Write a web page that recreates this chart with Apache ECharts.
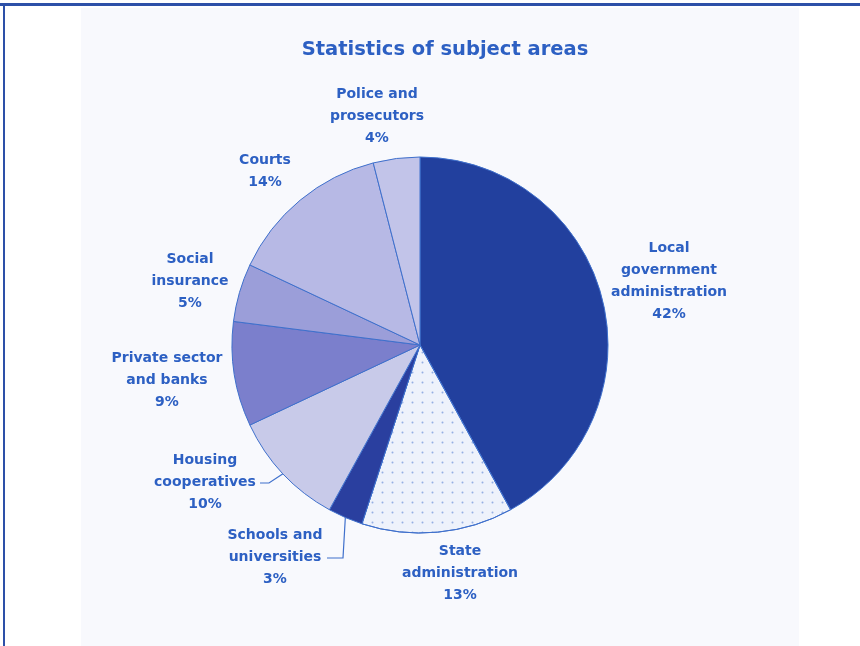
<!DOCTYPE html>
<html>
<head>
<meta charset="utf-8">
<script src="https://cdn.jsdelivr.net/npm/echarts@6/dist/echarts.min.js"></script>
<style>
  html, body { margin: 0; padding: 0; background: #ffffff; }
  #chart { width: 860px; height: 646px; }
</style>
</head>
<body>
<div id="chart"></div>
<script>
// ---- data ----
const categories = [
  'Local\ngovernment\nadministration',
  'State\nadministration',
  'Schools and\nuniversities',
  'Housing\ncooperatives',
  'Private sector\nand banks',
  'Social\ninsurance',
  'Courts',
  'Police and\nprosecutors'
];
const shares = [42, 13, 3, 10, 9, 5, 14, 4];

// ---- styling / layout (not data) ----
const sliceColors = ['#22409e', '#eef2fb', '#2a3f9f', '#c8cae9', '#7b7fcc', '#9b9ed9', '#b7b9e5', '#c2c4e9'];
const labelCenters = [[669, 281], [460, 573], [275, 557], [205, 482], [167, 380], [190, 281], [265, 171], [377, 116]];
const leaderEnds = { 2: [[343, 558], [327, 558]], 3: [[269, 483], [260, 483]] };

const textColor = '#2d60c3';

const chart = echarts.init(document.getElementById('chart'), null, { renderer: 'canvas' });

const data = categories.map((name, i) => ({
  name: name,
  value: shares[i],
  itemStyle: Object.assign({ color: sliceColors[i] }, i === 1 ? {
    decal: { symbol: 'circle', symbolSize: 0.4, color: 'rgba(90,130,210,0.6)', dashArrayX: 5, dashArrayY: 5, rotation: 0 }
  } : {}),
  labelLine: { show: leaderEnds[i] !== undefined }
}));

chart.setOption({
  animation: false,
  backgroundColor: '#ffffff',
  graphic: [
    { type: 'rect', z: -10, silent: true, shape: { x: 81, y: 8, width: 718, height: 638 }, style: { fill: '#f8f9fd' } },
    { type: 'rect', z: 10, silent: true, shape: { x: 0, y: 3, width: 860, height: 3 }, style: { fill: '#2d50a8' } },
    { type: 'rect', z: 10, silent: true, shape: { x: 3, y: 3, width: 2, height: 643 }, style: { fill: '#2d50a8' } }
  ],
  title: {
    text: 'Statistics of subject areas',
    left: 440,
    top: 35,
    textAlign: 'center',
    textStyle: { fontFamily: 'DejaVu Sans', fontWeight: 'bold', fontSize: 19.5, color: textColor }
  },
  series: [{
    type: 'pie',
    center: [420, 345],
    radius: 188,
    startAngle: 90,
    clockwise: true,
    avoidLabelOverlap: false,
    emphasis: { disabled: true },
    itemStyle: { borderColor: '#3f70cc', borderWidth: 1 },
    label: {
      show: true,
      formatter: '{b}\n{d}%',
      fontFamily: 'DejaVu Sans',
      fontWeight: 'bold',
      fontSize: 14,
      lineHeight: 22,
      color: textColor,
      align: 'center',
      verticalAlign: 'middle'
    },
    labelLine: { show: false, length: 10, length2: 10, smooth: false, lineStyle: { color: '#3f70cc', width: 1.2 } },
    labelLayout: function (params) {
      const i = params.dataIndex;
      const c = labelCenters[i];
      const res = { x: c[0], y: c[1], align: 'center', verticalAlign: 'middle' };
      if (leaderEnds[i] && params.labelLinePoints) {
        res.labelLinePoints = [params.labelLinePoints[0]].concat(leaderEnds[i]);
      }
      return res;
    },
    data: data
  }]
});
</script>
</body>
</html>
